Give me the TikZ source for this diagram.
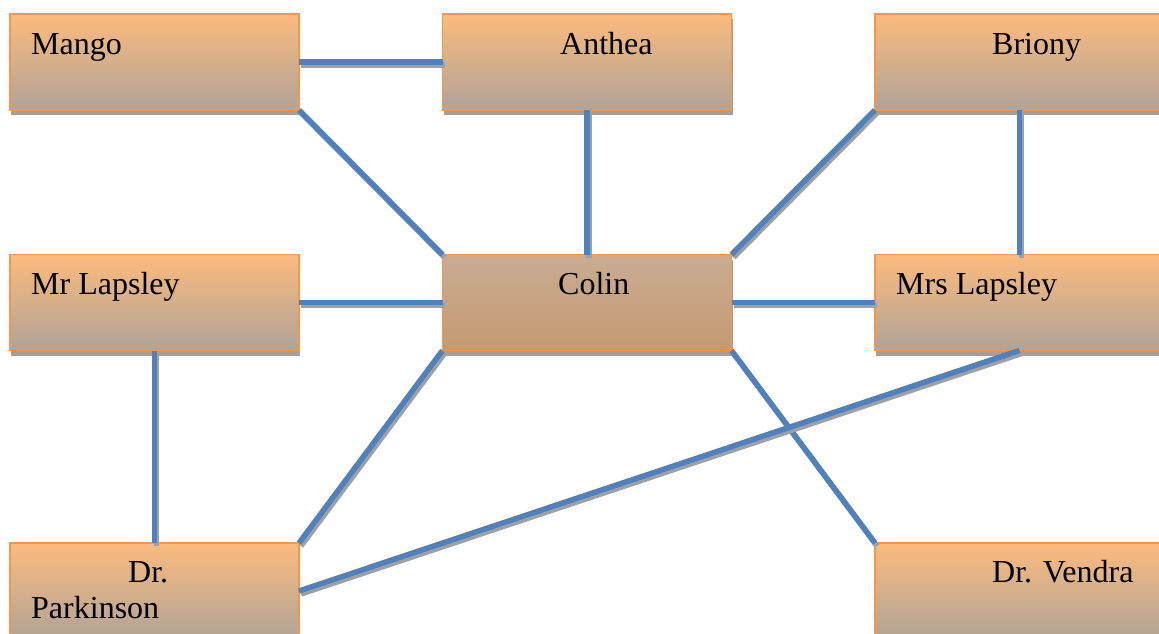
\documentclass[tikz,border=0pt]{standalone}
\usepackage{fontspec}
\setmainfont{Liberation Serif}
\usetikzlibrary{shadows}
\definecolor{boxtop}{HTML}{FBBB7E}
\definecolor{boxbot}{HTML}{B0A398}
\definecolor{midtop}{HTML}{C9AC93}
\definecolor{midbot}{HTML}{C49A70}
\definecolor{boxline}{HTML}{F79646}
\definecolor{linkblue}{HTML}{4F81BD}
\definecolor{linkgray}{HTML}{A0A0A0}
\begin{document}
\begin{tikzpicture}[x=1pt, y=-1pt,
  person/.style={rectangle, draw=boxline, line width=1.5pt, top color=boxtop, bottom color=boxbot,
    minimum width=289pt, minimum height=96pt, inner sep=0pt, outer sep=0pt,
    drop shadow={shadow xshift=1pt, shadow yshift=-5pt, fill=linkgray, opacity=1}},
  centre/.style={person, top color=midtop, bottom color=midbot},
  nametext/.style={anchor=base west, inner sep=0pt},
  link/.style={draw=linkblue, line width=5.5pt,
    preaction={draw=linkgray, line width=5.5pt, transform canvas={shift={(2pt,-3pt)}}}}]

  \useasboundingbox[fill=white] (0,0) rectangle (1159,633);
  \fontsize{32}{38}\selectfont

  \node[person] (mango)      at (154.5, 62) {};
  \node[person] (anthea)     at (587, 62)   {};
  \node[person] (briony)     at (1019.5, 62) {};
  \node[person] (mrlapsley)  at (154.5, 302.5) {};
  \node[centre] (colin)      at (587, 302.5) {};
  \node[person] (mrslapsley) at (1019.5, 302.5) {};
  \node[person] (parkinson)  at (154.5, 591) {};
  \node[person] (vendra)     at (1019.5, 591) {};

  \node[nametext] (mangoname)      at (31, 54)   {Mango};
  \node[nametext] (antheaname)     at (560, 54)  {Anthea};
  \node[nametext] (brionyname)     at (992, 54)  {Briony};
  \node[nametext] (mrlapsleyname)  at (31, 294)  {Mr Lapsley};
  \node[nametext] (colinname)      at (558, 294) {Colin};
  \node[nametext] (mrslapsleyname) at (896, 294) {Mrs Lapsley};
  \node[nametext] (drname)         at (128, 582) {Dr.};
  \node[nametext] (parkinsonname)  at (31, 618)  {Parkinson};
  \node[nametext] (vendraname)     at (992, 582) {Dr. Vendra};

  \draw[link] (mango.east) -- (anthea.west); %% Mango->Anthea
  \draw[link] (mango.south east) -- (colin.north west); %% Mango->Colin
  \draw[link] (anthea.south) -- (colin.north); %% Anthea->Colin
  \draw[link] (briony.south west) -- (colin.north east); %% Briony->Colin
  \draw[link] (briony.south) -- (mrslapsley.north); %% Briony->Mrs Lapsley
  \draw[link] (mrlapsley.east) -- (colin.west); %% Mr Lapsley->Colin
  \draw[link] (colin.east) -- (mrslapsley.west); %% Colin->Mrs Lapsley
  \draw[link] (mrlapsley.south) -- (parkinson.north); %% Mr Lapsley->Parkinson
  \draw[link] (colin.south west) -- (parkinson.north east); %% Colin->Parkinson
  \draw[link] (colin.south east) -- (vendra.north west); %% Colin->Vendra
  \draw[link] (mrslapsley.south) -- (parkinson.east); %% Mrs Lapsley->Parkinson

\end{tikzpicture}
\end{document}
